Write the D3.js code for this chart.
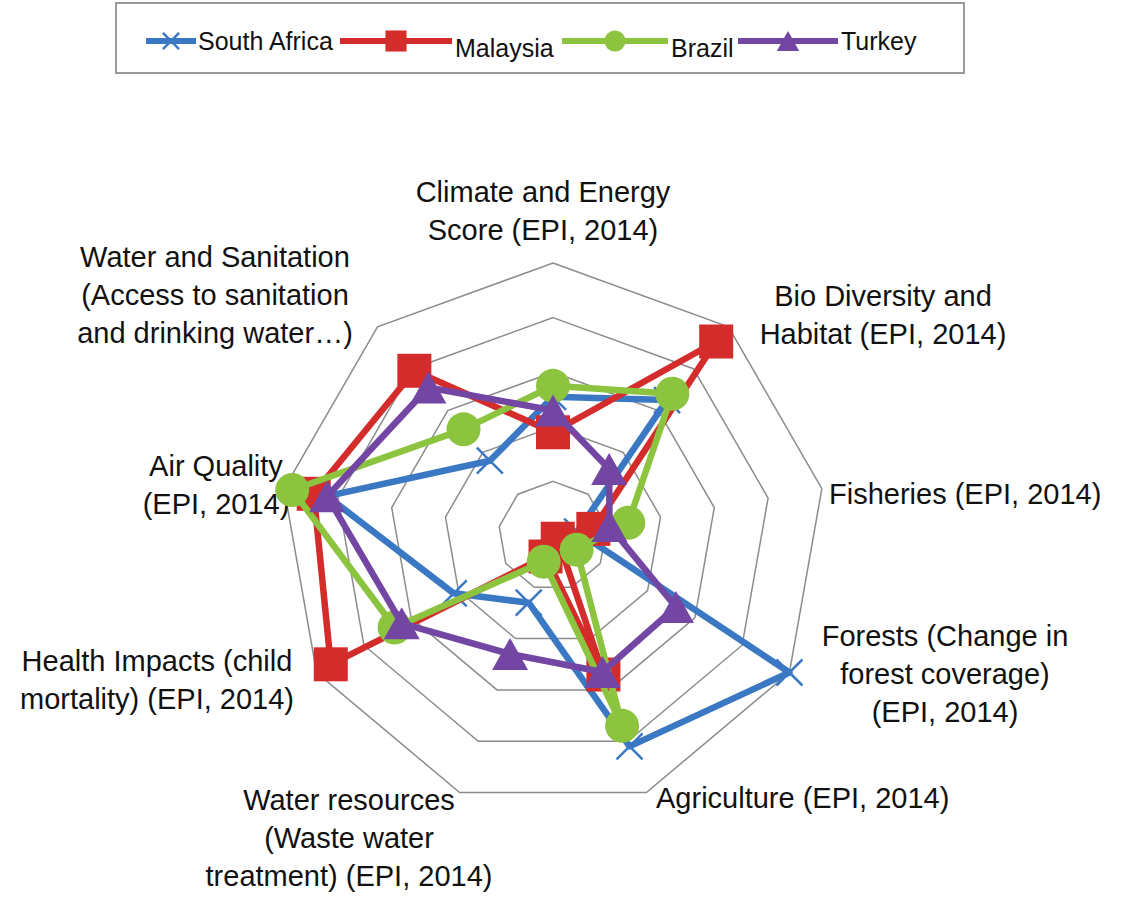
<!DOCTYPE html>
<html>
<head>
<meta charset="utf-8">
<script src="https://cdn.jsdelivr.net/npm/d3@7"></script>
<style>
  html, body { margin: 0; padding: 0; background: #fff; }
  svg { display: block; font-family: "Liberation Sans", Arial, sans-serif; }
</style>
</head>
<body>
<svg id="chart" width="1128" height="897"></svg>
<script>
// Environmental Performance Index (EPI, 2014) indicators
const categories = [
  "Climate and Energy|Score (EPI, 2014)",
  "Bio Diversity and|Habitat (EPI, 2014)",
  "Fisheries (EPI, 2014)",
  "Forests (Change in|forest coverage)|(EPI, 2014)",
  "Agriculture (EPI, 2014)",
  "Water resources|(Waste water|treatment) (EPI, 2014)",
  "Health Impacts (child|mortality) (EPI, 2014)",
  "Air Quality|(EPI, 2014)",
  "Water and Sanitation|(Access to sanitation|and drinking water…)"
];

const seriesNames = ["South Africa", "Malaysia", "Brazil", "Turkey"];

const southAfrica = [51, 65, 9, 100, 82, 26, 42, 84, 36];
const malaysia    = [38, 93, 15, 2, 54, 8, 94, 89, 79];
const brazil      = [55, 68, 28, 10, 74, 10, 67, 97, 51];
const turkey      = [46, 32, 21, 52, 53, 46, 64, 84, 71];

const gridTicks = [20, 40, 60, 80, 100];

// ---- layout ----
const cx = 553, cy = 536, radius = 273;
const colors = ["#3b78c4", "#d42b2b", "#8cc43f", "#7446a3"];
const markerKinds = ["x", "square", "circle", "triangle"];
const seriesValues = [southAfrica, malaysia, brazil, turkey];

// label blocks: anchor point and alignment for each category
const labelLayout = [
  { x: 543, y: 202, anchor: "middle" },
  { x: 883, y: 306, anchor: "middle" },
  { x: 829, y: 504, anchor: "start" },
  { x: 945, y: 646, anchor: "middle" },
  { x: 656, y: 808, anchor: "start" },
  { x: 349, y: 810, anchor: "middle" },
  { x: 157, y: 671, anchor: "middle" },
  { x: 216, y: 476, anchor: "middle" },
  { x: 215, y: 267, anchor: "middle" }
];
const lineHeight = 38;
const labelFont = 29;

const svg = d3.select("#chart");
const n = categories.length;

const r = d3.scaleLinear().domain([0, 100]).range([0, radius]);
const angle = d3.scaleLinear().domain([0, n]).range([0, 2 * Math.PI]);

function point(i, v) {
  const a = angle(i);
  return [cx + r(v) * Math.sin(a), cy - r(v) * Math.cos(a)];
}

// ---- grid rings ----
const ringLine = d3.line().curve(d3.curveLinearClosed);
svg.append("g")
  .selectAll("path")
  .data(gridTicks)
  .join("path")
  .attr("d", t => ringLine(d3.range(n).map(i => point(i, t))))
  .attr("fill", "none")
  .attr("stroke", "#8c8c8c")
  .attr("stroke-width", 1.5);

// ---- category labels ----
const labels = svg.append("g")
  .attr("font-size", labelFont)
  .attr("fill", "#111");
categories.forEach((c, i) => {
  const lay = labelLayout[i];
  const t = labels.append("text")
    .attr("text-anchor", lay.anchor);
  c.split("|").forEach((ln, k) => {
    t.append("tspan")
      .attr("x", lay.x)
      .attr("y", lay.y + k * lineHeight)
      .text(ln);
  });
});

// ---- markers ----
function drawMarker(g, kind, x, y, color, scale) {
  const s = scale || 1;
  if (kind === "square") {
    const h = 17 * s;
    g.append("rect").attr("x", x - h).attr("y", y - h)
      .attr("width", 2 * h).attr("height", 2 * h).attr("fill", color);
  } else if (kind === "circle") {
    g.append("circle").attr("cx", x).attr("cy", y).attr("r", 17 * s).attr("fill", color);
  } else if (kind === "triangle") {
    const w = 18 * s, h = 16 * s;
    g.append("path")
      .attr("d", `M${x},${y - h}L${x + w},${y + h}L${x - w},${y + h}Z`)
      .attr("fill", color);
  } else if (kind === "x") {
    const a = 13 * s;
    g.append("path")
      .attr("d", `M${x - a},${y - a}L${x + a},${y + a}M${x - a},${y + a}L${x + a},${y - a}`)
      .attr("stroke", color).attr("stroke-width", 2.5).attr("fill", "none");
  }
}

// ---- series ----
const plot = svg.append("g");
seriesValues.forEach((vals, s) => {
  const g = plot.append("g");
  const pts = vals.map((v, i) => point(i, v));
  g.append("path")
    .attr("d", ringLine(pts))
    .attr("fill", "none")
    .attr("stroke", colors[s])
    .attr("stroke-width", 6.5)
    .attr("stroke-linejoin", "round");
  pts.forEach(p => drawMarker(g, markerKinds[s], p[0], p[1], colors[s]));
});

// ---- legend ----
const legend = svg.append("g");
legend.append("rect")
  .attr("x", 116).attr("y", 3).attr("width", 848).attr("height", 70)
  .attr("fill", "#fff").attr("stroke", "#9a9a9a").attr("stroke-width", 2);
const legendItems = [
  { x0: 146, x1: 196, tx: 198, ty: 50 },
  { x0: 340, x1: 452, tx: 455, ty: 57 },
  { x0: 562, x1: 668, tx: 671, ty: 57 },
  { x0: 738, x1: 838, tx: 841, ty: 50 }
];
seriesNames.forEach((name, s) => {
  const it = legendItems[s];
  const ly = 41;
  legend.append("line")
    .attr("x1", it.x0).attr("x2", it.x1).attr("y1", ly).attr("y2", ly)
    .attr("stroke", colors[s]).attr("stroke-width", 6);
  drawMarker(legend, markerKinds[s], (it.x0 + it.x1) / 2, ly, colors[s], 0.62);
  legend.append("text")
    .attr("x", it.tx).attr("y", it.ty)
    .attr("font-size", 25).attr("fill", "#111")
    .text(name);
});
</script>
</body>
</html>
